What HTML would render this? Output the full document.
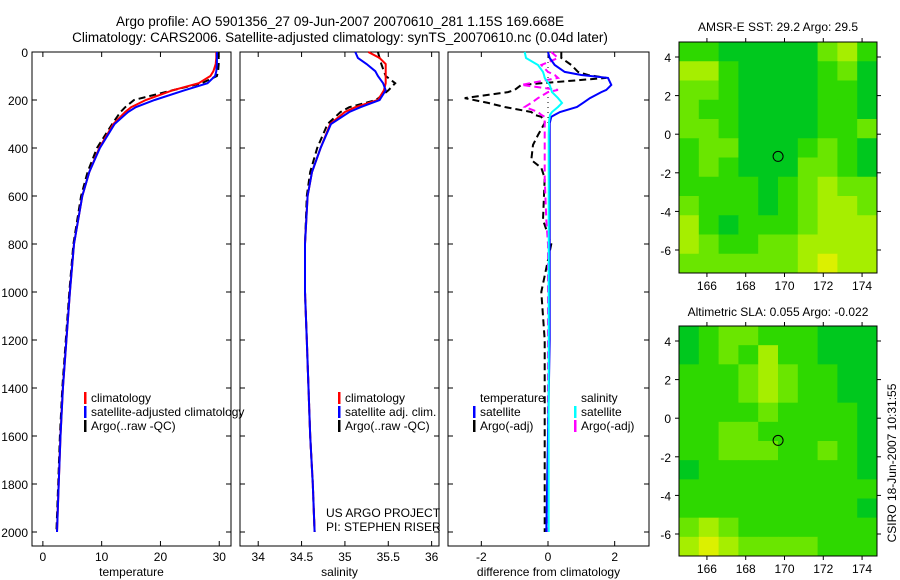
<!DOCTYPE html>
<html><head><meta charset="utf-8"><style>
html,body{margin:0;padding:0;background:#fff;}
svg{display:block;font-family:"Liberation Sans",sans-serif;}
</style></head><body>
<svg id="fig" width="900" height="580" viewBox="0 0 900 580" xmlns="http://www.w3.org/2000/svg">
<text x="340" y="26" font-size="13.5" text-anchor="middle">Argo profile: AO 5901356_27 09-Jun-2007 20070610_281 1.15S 169.668E</text>
<text x="340" y="42" font-size="13.5" text-anchor="middle">Climatology: CARS2006. Satellite-adjusted climatology: synTS_20070610.nc (0.04d later)</text>
<text x="778" y="31" font-size="12" text-anchor="middle">AMSR-E SST: 29.2 Argo: 29.5</text>
<text x="778" y="316" font-size="12" text-anchor="middle">Altimetric SLA: 0.055 Argo: -0.022</text>
<text transform="translate(896,463) rotate(-90)" font-size="12" text-anchor="middle">CSIRO 18-Jun-2007 10:31:55</text>
<g id="g"></g>
</svg>
<script>
// ---- profile data ----
const depths = [0,25,50,80,100,130,160,200,230,250,300,400,500,600,800,1000,1200,1400,1600,1800,2000];
const tempClim = [29.5,29.5,29.4,29.0,28.5,26.5,22.0,17.5,15.0,14.0,12.0,9.6,7.9,6.7,5.3,4.6,4.0,3.4,3.0,2.7,2.4];
const tempSat  = [29.6,29.6,29.6,29.5,29.3,28.0,24.0,19.0,15.8,14.5,12.2,9.7,7.9,6.7,5.3,4.6,4.0,3.4,3.0,2.7,2.4];
const tempArgo = [29.8,29.9,29.9,29.8,29.6,27.0,22.0,15.5,14.0,13.2,11.8,9.2,7.6,6.5,5.2,4.5,3.9,3.3,2.9,2.6,2.3];
const salClim = [35.27,35.40,35.47,35.47,35.47,35.47,35.45,35.38,35.12,35.0,34.83,34.72,34.62,34.57,34.54,34.54,34.56,34.58,34.60,34.63,34.65];
const salSat  = [35.12,35.15,35.25,35.35,35.38,35.44,35.47,35.40,35.18,35.05,34.84,34.72,34.62,34.57,34.54,34.54,34.56,34.58,34.60,34.63,34.65];
const salArgo = [35.38,35.40,35.42,35.45,35.47,35.58,35.50,35.36,35.05,34.95,34.80,34.68,34.60,34.56,34.54,34.54,34.56,34.58,34.60,34.63,34.65];
const diffDepths = [0,25,54,83,96,108,137,158,167,192,212,229,250,262,270,292,296,346,387,450,483,525,700,800,1000,1200,1600,2000];
const dTempSat  = [0,0.05,0.2,0.5,1.0,1.8,1.9,1.75,1.6,1.26,1.05,0.87,0.36,0.2,0.1,0.06,0.05,0.05,0.05,0.05,0.05,0.05,0.05,0.05,0.05,0.05,0.0,-0.05];
const dSalSat   = [-0.7,-0.66,-0.3,-0.15,-0.12,-0.1,0.05,0.1,0.12,0.3,0.42,0.3,0.12,0.06,0.05,0.03,0.03,0.02,0.02,0.02,0.02,0.02,0.02,0.02,0.02,0.02,0.02,0.02];
const dTempArgo = [0.4,0.4,0.7,0.9,1.2,1.75,-0.8,-1.0,-1.2,-2.5,-1.8,-1.3,-0.5,-0.4,-0.2,-0.1,-0.1,-0.3,-0.45,-0.5,-0.2,-0.1,-0.15,0.1,-0.2,-0.1,-0.1,-0.1];
const dSalArgo  = [0.1,0.3,-0.2,0,0.2,0.3,-0.8,0.3,0.0,-0.3,-0.5,-0.7,-0.3,-0.2,-0.1,-0.1,-0.1,-0.1,-0.1,-0.1,-0.1,-0.1,-0.05,0.0,0.0,0.0,0.0,0.0];
const yTicks = [0,200,400,600,800,1000,1200,1400,1600,1800,2000];
const tTicks = [0,10,20,30];
const sTicks = [34,34.5,35,35.5,36];
const dTicks = [-2,0,2];
// ---- map data (levels 0 dark green .. 4 yellow) ----
const lonTicks = [166,168,170,172,174];
const latTicks = [4,2,0,-2,-4,-6];
const sstGrid = [
[1,1,0,0,0,0,0,2,3,1],
[3,3,1,0,0,0,0,1,2,0],
[2,2,1,0,0,0,0,1,1,0],
[2,1,1,0,0,0,0,1,1,0],
[2,2,1,0,0,0,0,1,1,2],
[1,2,2,0,0,0,1,2,1,0],
[1,2,1,0,0,0,2,2,1,0],
[1,1,1,1,0,1,2,3,2,2],
[2,1,1,1,0,1,2,3,3,2],
[3,1,0,1,1,1,2,3,3,3],
[3,2,1,1,2,2,3,3,3,3],
[2,2,2,2,2,2,3,4,3,3]];
const slaGrid = [
[0,1,2,2,1,1,1,0,0,0],
[0,1,2,1,3,1,1,0,0,0],
[1,1,1,2,3,2,1,1,0,0],
[1,1,1,2,3,2,1,1,0,0],
[1,1,1,1,2,1,1,1,1,0],
[1,1,2,2,1,1,1,1,1,0],
[1,1,2,2,2,1,1,2,1,0],
[0,1,1,1,1,1,1,1,1,0],
[1,1,1,1,1,1,1,1,1,1],
[1,1,1,1,1,1,1,1,1,0],
[2,3,2,1,1,1,1,1,1,1],
[3,4,3,2,2,2,2,1,1,1]];
const argoLon = [169.67];
const argoLat = [-1.15];

const NS='http://www.w3.org/2000/svg';
const G=document.getElementById('g');
function mk(tag,attrs,parent){const e=document.createElementNS(NS,tag);for(const k in attrs)e.setAttribute(k,attrs[k]);(parent||G).appendChild(e);return e;}
const levelColors=['#00c81e','#2ed800','#6ae600','#a6ee00','#dcf000'];

function profilePanel(name,x0,x1,xmin,xmax,ticks,label,showY){
  const top=52,bot=546;
  const sx=v=>x0+(v-xmin)/(xmax-xmin)*(x1-x0);
  const sy=d=>top+d*0.24;
  const grp=mk('g',{});
  
  
  const r=mk('rect',{x:x0,y:top,width:x1-x0,height:bot-top,fill:'none',stroke:'#000','stroke-width':1},grp);
  
  
  yTicks.forEach(t=>{
    mk('line',{x1:x0,x2:x0+5,y1:sy(t),y2:sy(t),stroke:'#000'},grp);
    mk('line',{x1:x1,x2:x1-5,y1:sy(t),y2:sy(t),stroke:'#000'},grp);
    if(showY){const tx=mk('text',{x:x0-4,y:sy(t)+5,'font-size':12,'text-anchor':'end'},grp);tx.textContent=t;
      
      }
  });
  ticks.forEach(t=>{
    mk('line',{x1:sx(t),x2:sx(t),y1:bot,y2:bot-5,stroke:'#000'},grp);
    mk('line',{x1:sx(t),x2:sx(t),y1:top,y2:top+5,stroke:'#000'},grp);
    const tx=mk('text',{x:sx(t),y:bot+15,'font-size':12,'text-anchor':'middle'},grp);tx.textContent=t;
    
    
  });
  const lb=mk('text',{x:(x0+x1)/2,y:576,'font-size':12,'text-anchor':'middle'},grp);lb.textContent=label;
  
  
  return {sx,sy,grp};
}
function line(p,ds,vs,color,dash,name,w){
  const pts=ds.map((d,i)=>p.sx(vs[i]).toFixed(1)+','+p.sy(d).toFixed(1)).join(' ');
  const e=mk('polyline',{points:pts,fill:'none',stroke:color,'stroke-width':w||2,'stroke-dasharray':dash||'none'},p.grp);
  
  
}
function legend(p,x,y,items){
  items.forEach((it,i)=>{
    const yy=y+i*14;
    if(it[1]) mk('rect',{x:x,y:yy-10,width:2.5,height:12,fill:it[1]},p.grp);
    const t=mk('text',{x:x+7,y:yy,'font-size':12},p.grp);t.textContent=it[0];
    
    
  });
}
const P1=profilePanel('temperature',32,231,-1.85,32.0,tTicks,'temperature',true);
line(P1,depths,tempArgo,'#000','7,4','temp-argo-line');
line(P1,depths,tempClim,'#f00',null,'temp-climatology-line');
line(P1,depths,tempSat,'#00f',null,'temp-satellite-line');
legend(P1,84,402,[['climatology','#f00'],['satellite-adjusted climatology','#00f'],['Argo(..raw -QC)','#000']]);

const P2=profilePanel('salinity',240,439,33.79,36.085,sTicks,'salinity',false);
line(P2,depths,salArgo,'#000','7,4','sal-argo-line');
line(P2,depths,salClim,'#f00',null,'sal-climatology-line');
line(P2,depths,salSat,'#00f',null,'sal-satellite-line');
legend(P2,338,402,[['climatology','#f00'],['satellite adj. clim.','#00f'],['Argo(..raw -QC)','#000']]);
const u1=mk('text',{x:326,y:517,'font-size':12},P2.grp);u1.textContent='US ARGO PROJECT';


const u2=mk('text',{x:326,y:531,'font-size':12},P2.grp);u2.textContent='PI: STEPHEN RISER';



const P3=profilePanel('difference',448,649,-3.0,3.03,dTicks,'difference from climatology',false);
mk('line',{x1:P3.sx(0),x2:P3.sx(0),y1:P3.sy(0),y2:P3.sy(300),stroke:'#000','stroke-dasharray':'1,4'},P3.grp);
line(P3,diffDepths,dTempArgo,'#000','7,4','diff-temp-argo-line');
line(P3,diffDepths,dSalArgo,'#f0f','7,4','diff-sal-argo-line');
line(P3,diffDepths,dTempSat,'#00f',null,'diff-temp-satellite-line');
line(P3,diffDepths,dSalSat,'#0ff',null,'diff-sal-satellite-line');
legend(P3,473,402,[['temperature',null],['satellite','#00f'],['Argo(-adj)','#000']]);
legend(P3,574,402,[['salinity',null],['satellite','#0ff'],['Argo(-adj)','#f0f']]);

function mapPanel(name,x0,x1,y0,y1,lat4y,latm6y,grid){
  const lonMin=164.56,lonMax=174.77;
  const sx=l=>x0+(l-lonMin)/(lonMax-lonMin)*(x1-x0);
  const pl=(lat4y-latm6y)/10;
  const sy=la=>lat4y+(4-la)*(-pl)*-1*-1; // placeholder
  const syy=la=>lat4y+(4-la)*((latm6y-lat4y)/10);
  const grp=mk('g',{});
  
  
  const latTop=4-(y0-lat4y)/((latm6y-lat4y)/10);
  const latBot=4-(y1-lat4y)/((latm6y-lat4y)/10);
  const nr=grid.length,nc=grid[0].length;
  const dLon=(lonMax-lonMin)/nc,dLat=(latTop-latBot)/nr;
  grid.forEach((row,i)=>row.forEach((v,j)=>{
    const xa=sx(lonMin+j*dLon),xb=sx(lonMin+(j+1)*dLon);
    const ya=syy(latTop-i*dLat),yb=syy(latTop-(i+1)*dLat);
    const c=mk('rect',{x:xa,y:ya,width:xb-xa+0.5,height:yb-ya+0.5,fill:levelColors[v]},grp);
    
    
  }));
  const fr=mk('rect',{x:x0,y:y0,width:x1-x0,height:y1-y0,fill:'none',stroke:'#000'},grp);
  
  
  lonTicks.forEach(t=>{
    mk('line',{x1:sx(t),x2:sx(t),y1:y1,y2:y1+4,stroke:'#000'},grp);
    mk('line',{x1:sx(t),x2:sx(t),y1:y0,y2:y0-4,stroke:'#000'},grp);
    const tx=mk('text',{x:sx(t),y:y1+17,'font-size':12,'text-anchor':'middle'},grp);tx.textContent=t;
    
    
  });
  latTicks.forEach(t=>{
    mk('line',{x1:x0,x2:x0-4,y1:syy(t),y2:syy(t),stroke:'#000'},grp);
    mk('line',{x1:x1,x2:x1+4,y1:syy(t),y2:syy(t),stroke:'#000'},grp);
    const tx=mk('text',{x:x0-8,y:syy(t)+5,'font-size':12,'text-anchor':'end'},grp);tx.textContent=t;
    
    
  });
  const ci=mk('circle',{cx:sx(argoLon[0]),cy:syy(argoLat[0]),r:5,fill:'none',stroke:'#000'},grp);
  
  
}
mapPanel('sst',679,877,42,273,57,250,sstGrid);
mapPanel('sla',679,877,326,556,341,534,slaGrid);
</script>
</body></html>
